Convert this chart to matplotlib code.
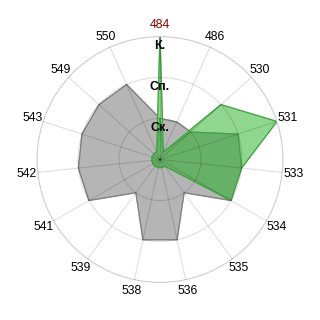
import numpy as np
import matplotlib
matplotlib.use('Agg')
import matplotlib.pyplot as plt

# categories clockwise from the top
categories = ['484', '486', '530', '531', '533', '534', '535', '536',
              '538', '539', '541', '542', '543', '549', '550']
level_labels = ['Ск.', 'Сп.', 'К.']

gray_values = [1, 1, 1, 1, 1, 2, 1, 2, 2, 1, 2, 2, 2, 2, 2]
light_green_values = [3, 0.2, 2, 3, 2, 0.2, 0.2, 0.2, 0.2, 0.2, 0.2, 0.2, 0.2, 0.2, 0.2]
dark_green_values = [1, 0.2, 1, 2, 2, 2, 0.2, 0.2, 0.2, 0.2, 0.2, 0.2, 0.2, 0.2, 0.2]

plt.rcParams['font.family'] = ['Liberation Sans', 'DejaVu Sans']

angles = np.linspace(0, 2 * np.pi, len(categories), endpoint=False)
closed = np.append(angles, angles[0])

def close(vals):
    return vals + vals[:1]

fig = plt.figure(figsize=(3.2, 3.2), dpi=100)
ax = fig.add_axes([37 / 320, 37.5 / 320, 246 / 320, 246 / 320], projection='polar')
ax.set_theta_zero_location('N')
ax.set_theta_direction(-1)

ax.fill(closed, close(gray_values), color='#b5b5b5', zorder=1.1)
ax.plot(closed, close(gray_values), color='#7f7f7f', lw=0.9, zorder=1.1)
ax.fill(closed, close(light_green_values), color='#8fd68f', zorder=1.2)
ax.plot(closed, close(light_green_values), color='#43a343', lw=0.9, zorder=1.2)
ax.fill(closed, close(dark_green_values), color='#67b067', zorder=1.3)
ax.plot(closed, close(dark_green_values), color='#43a343', lw=0.9, zorder=1.3)

ax.set_ylim(0, 3)
ax.set_yticks([1, 2, 3])
ax.set_yticklabels([])
ax.set_xticks(angles)
ax.set_xticklabels(categories, fontsize=8.8)
ax.tick_params(axis='x', length=0, pad=1)
ax.get_xticklabels()[0].set_color('#8b0000')
ax.set_axisbelow(False)
ax.grid(color='black', alpha=0.13, lw=0.8)
ax.spines['polar'].set_color('#dddddd')

for r, lab in zip([1, 2, 3], level_labels):
    ax.text(0, r - 0.23, lab, ha='center', va='center', fontsize=9,
            fontweight='bold', zorder=5)

fig.savefig('out.png', dpi=100)
